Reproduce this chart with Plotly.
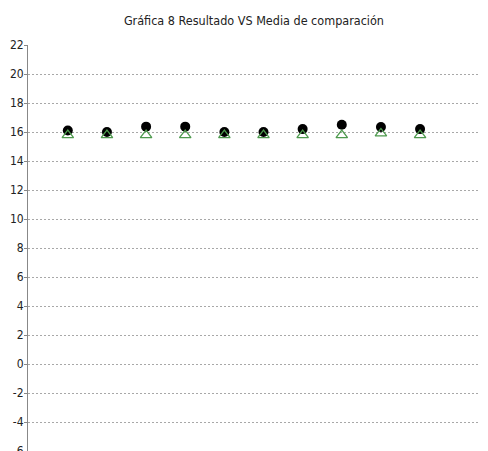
import plotly.graph_objects as go

muestras = [1, 2, 3, 4, 5, 6, 7, 8, 9, 10]
resultado = [16.1, 16.0, 16.37, 16.37, 16.0, 16.0, 16.2, 16.5, 16.35, 16.2]
media_comparacion = [15.78, 15.78, 15.78, 15.78, 15.78, 15.78, 15.78, 15.78, 15.9, 15.78]
y_ticks = list(range(-6, 23, 2))

FONT = "DejaVu Sans Condensed, Liberation Sans, Arial, sans-serif"

fig = go.Figure()
fig.add_trace(go.Scatter(
    x=muestras, y=resultado, mode="markers", name="Resultado",
    marker=dict(symbol="circle", size=10, color="#000000",
                line=dict(width=0)),
))
fig.add_trace(go.Scatter(
    x=muestras, y=media_comparacion, mode="markers", name="Media de comparación",
    marker=dict(symbol="triangle-up-open", size=10, color="#4e9a4e",
                line=dict(width=1.3, color="#4e9a4e")),
))

fig.update_layout(
    width=488, height=451,
    margin=dict(l=20, r=0, t=37, b=8, autoexpand=False),
    paper_bgcolor="white", plot_bgcolor="white",
    showlegend=False,
    title=dict(text="Gráfica 8 Resultado VS Media de comparación",
               x=0.504, xanchor="center", y=0.973, yanchor="middle",
               font=dict(family=FONT, size=12.5, color="#222222")),
    font=dict(family=FONT, size=12, color="#222222"),
)
fig.update_xaxes(range=[-0.017, 11.94], visible=False, showgrid=False, zeroline=False)
fig.update_yaxes(
    range=[-6, 22], tickvals=y_ticks, ticktext=[str(v) for v in y_ticks],
    automargin=False,
    showgrid=True, gridcolor="#a8a8a8", griddash="2px,2px", gridwidth=1,
    zeroline=False, showline=True, linecolor="#888888", linewidth=1,
    ticks="outside", ticklen=3, tickcolor="#888888",
    ticklabelstandoff=-2,
    tickfont=dict(size=12, color="#222222"),
)

fig.write_html("out.html")
